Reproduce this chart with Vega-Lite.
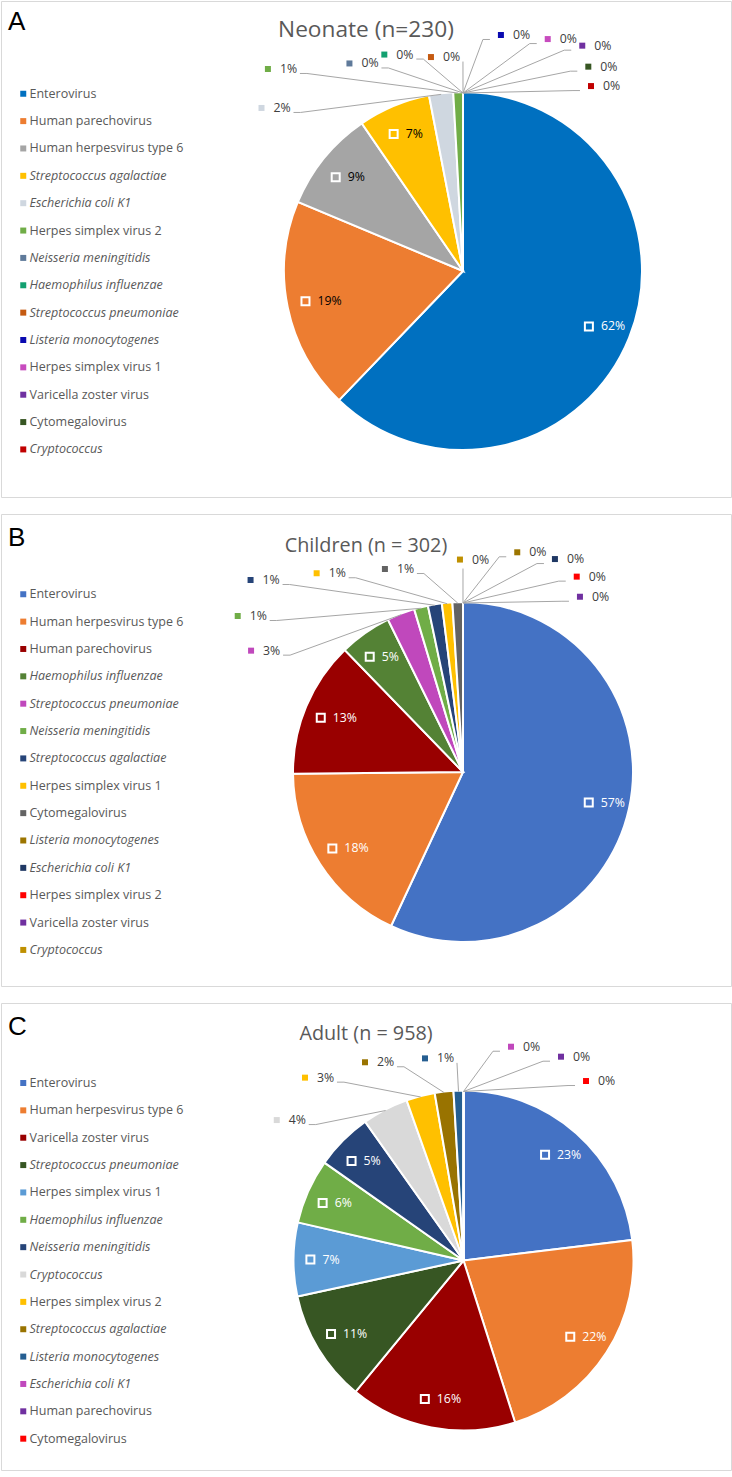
{
  "$schema": "https://vega.github.io/schema/vega-lite/v6.json",
  "background": "#FFFFFF",
  "padding": 0,
  "spacing": 15,
  "resolve": {"scale": {"color": "independent"}, "legend": {"color": "independent"}},
  "config": {
    "font": "Open Sans",
    "view": {"stroke": "#D9D9D9", "strokeWidth": 1},
    "title": {"font": "Open Sans", "fontWeight": "normal", "color": "#595959", "frame": "group"},
    "legend": {
      "orient": "none", "direction": "vertical", "symbolType": "square", "symbolSize": 36,
      "symbolStrokeWidth": 0, "symbolOpacity": 1, "labelFont": "Open Sans", "labelFontSize": 12.5,
      "labelColor": "#595959", "labelOffset": 0, "rowPadding": 14.36, "padding": 0, "labelLimit": 300
    }
  },
  "datasets": {
    "pathogens": [
      {"panel": "A", "order": 1, "pathogen": "Enterovirus", "n": 143},
      {"panel": "A", "order": 2, "pathogen": "Human parechovirus", "n": 44},
      {"panel": "A", "order": 3, "pathogen": "Human herpesvirus type 6", "n": 21},
      {"panel": "A", "order": 4, "pathogen": "Streptococcus agalactiae", "n": 15},
      {"panel": "A", "order": 5, "pathogen": "Escherichia coli K1", "n": 5, "lx": -1.132, "ly": 0.916},
      {"panel": "A", "order": 6, "pathogen": "Herpes simplex virus 2", "n": 2, "lx": -1.096, "ly": 1.135},
      {"panel": "A", "order": 7, "pathogen": "Neisseria meningitidis", "n": 0, "lx": -0.638, "ly": 1.166},
      {"panel": "A", "order": 8, "pathogen": "Haemophilus influenzae", "n": 0, "lx": -0.442, "ly": 1.216},
      {"panel": "A", "order": 9, "pathogen": "Streptococcus pneumoniae", "n": 0, "lx": -0.18, "ly": 1.202},
      {"panel": "A", "order": 10, "pathogen": "Listeria monocytogenes", "n": 0, "lx": 0.213, "ly": 1.326},
      {"panel": "A", "order": 11, "pathogen": "Herpes simplex virus 1", "n": 0, "lx": 0.476, "ly": 1.303},
      {"panel": "A", "order": 12, "pathogen": "Varicella zoster virus", "n": 0, "lx": 0.67, "ly": 1.266},
      {"panel": "A", "order": 13, "pathogen": "Cytomegalovirus", "n": 0, "lx": 0.704, "ly": 1.148},
      {"panel": "A", "order": 14, "pathogen": "Cryptococcus", "n": 0, "lx": 0.719, "ly": 1.039},

      {"panel": "B", "order": 1, "pathogen": "Enterovirus", "n": 172},
      {"panel": "B", "order": 2, "pathogen": "Human herpesvirus type 6", "n": 54},
      {"panel": "B", "order": 3, "pathogen": "Human parechovirus", "n": 39},
      {"panel": "B", "order": 4, "pathogen": "Haemophilus influenzae", "n": 15},
      {"panel": "B", "order": 5, "pathogen": "Streptococcus pneumoniae", "n": 8, "lx": -1.254, "ly": 0.718},
      {"panel": "B", "order": 6, "pathogen": "Neisseria meningitidis", "n": 4, "lx": -1.333, "ly": 0.923},
      {"panel": "B", "order": 7, "pathogen": "Streptococcus agalactiae", "n": 4, "lx": -1.257, "ly": 1.136},
      {"panel": "B", "order": 8, "pathogen": "Herpes simplex virus 1", "n": 3, "lx": -0.866, "ly": 1.176},
      {"panel": "B", "order": 9, "pathogen": "Cytomegalovirus", "n": 3, "lx": -0.462, "ly": 1.201},
      {"panel": "B", "order": 10, "pathogen": "Listeria monocytogenes", "n": 0, "lx": 0.321, "ly": 1.3},
      {"panel": "B", "order": 11, "pathogen": "Escherichia coli K1", "n": 0, "lx": 0.544, "ly": 1.26},
      {"panel": "B", "order": 12, "pathogen": "Herpes simplex virus 2", "n": 0, "lx": 0.673, "ly": 1.156},
      {"panel": "B", "order": 13, "pathogen": "Varicella zoster virus", "n": 0, "lx": 0.692, "ly": 1.037},
      {"panel": "B", "order": 14, "pathogen": "Cryptococcus", "n": 0, "lx": -0.018, "ly": 1.257},

      {"panel": "C", "order": 1, "pathogen": "Enterovirus", "n": 221},
      {"panel": "C", "order": 2, "pathogen": "Human herpesvirus type 6", "n": 211},
      {"panel": "C", "order": 3, "pathogen": "Varicella zoster virus", "n": 152},
      {"panel": "C", "order": 4, "pathogen": "Streptococcus pneumoniae", "n": 102},
      {"panel": "C", "order": 5, "pathogen": "Herpes simplex virus 1", "n": 67},
      {"panel": "C", "order": 6, "pathogen": "Haemophilus influenzae", "n": 59},
      {"panel": "C", "order": 7, "pathogen": "Neisseria meningitidis", "n": 52},
      {"panel": "C", "order": 8, "pathogen": "Cryptococcus", "n": 42, "lx": -1.105, "ly": 0.831},
      {"panel": "C", "order": 9, "pathogen": "Herpes simplex virus 2", "n": 26, "lx": -0.938, "ly": 1.082},
      {"panel": "C", "order": 10, "pathogen": "Streptococcus agalactiae", "n": 17, "lx": -0.583, "ly": 1.173},
      {"panel": "C", "order": 11, "pathogen": "Listeria monocytogenes", "n": 9, "lx": -0.228, "ly": 1.196},
      {"panel": "C", "order": 12, "pathogen": "Escherichia coli K1", "n": 0, "lx": 0.281, "ly": 1.265},
      {"panel": "C", "order": 13, "pathogen": "Human parechovirus", "n": 0, "lx": 0.577, "ly": 1.206},
      {"panel": "C", "order": 14, "pathogen": "Cytomegalovirus", "n": 0, "lx": 0.725, "ly": 1.062}
    ]
  },
  "vconcat": [
    {
      "title": {"text": "A", "anchor": "start", "offset": -34, "dx": 7, "font": "Liberation Sans", "fontSize": 26, "color": "#000000"},
      "vconcat": [
        {
          "width": 730,
          "height": 496,
          "title": {"text": "Neonate (n=230)", "anchor": "middle", "offset": -41, "fontSize": 22.7},
          "data": {"name": "pathogens"},
          "transform": [
            {"filter": "datum.panel === 'A'"},
            {"joinaggregate": [{"op": "sum", "field": "n", "as": "total"}]},
            {"window": [{"op": "sum", "field": "n", "as": "cum"}], "sort": [{"field": "order"}], "frame": [null, 0]},
            {"calculate": "datum.n / datum.total", "as": "pct"},
            {"calculate": "format(datum.pct, '.0%')", "as": "label"},
            {"calculate": "2 * PI * (datum.cum - datum.n / 2) / datum.total", "as": "mid"},
            {"calculate": "sin(datum.mid)", "as": "ex"},
            {"calculate": "cos(datum.mid)", "as": "ey"},
            {"calculate": "0.835 * datum.ex", "as": "ix"},
            {"calculate": "0.835 * datum.ey", "as": "iy"},
            {"calculate": "datum.ex * 178 >= datum.lx * 178 - 4 && datum.ex * 178 <= datum.lx * 178 + 31", "as": "under"},
            {"calculate": "datum.lx * 178 + 14 < datum.ex * 178", "as": "leftSide"},
            {"calculate": "datum.under ? datum.ex : datum.leftSide ? datum.lx + 32 / 178 : datum.lx - 11 / 178", "as": "ax"},
            {"calculate": "datum.ly - (datum.under ? 9 : 4.5) / 178", "as": "ay"},
            {"calculate": "!datum.under && abs(datum.ex - datum.ax) * 178 > 12 ? 7 / 178 : 0", "as": "stub"},
            {"calculate": "datum.leftSide ? datum.ax + datum.stub : datum.ax - datum.stub", "as": "bx"}
          ],
          "layer": [
            {
              "mark": {"type": "arc", "outerRadius": 179, "stroke": "#FFFFFF", "strokeWidth": 2},
              "encoding": {
                "x": {"datum": 0, "type": "quantitative", "scale": {"domain": [-2.5955, 1.5056], "nice": false, "zero": false}, "axis": null},
                "y": {"datum": 0, "type": "quantitative", "scale": {"domain": [-1.2697, 1.5169], "nice": false, "zero": false}, "axis": null},
                "theta": {"field": "n", "type": "quantitative", "stack": true},
                "order": {"field": "order", "type": "quantitative", "sort": "ascending"},
                "color": {
                  "field": "pathogen", "type": "nominal",
                  "scale": {
                    "domain": ["Enterovirus", "Human parechovirus", "Human herpesvirus type 6", "Streptococcus agalactiae", "Escherichia coli K1", "Herpes simplex virus 2", "Neisseria meningitidis", "Haemophilus influenzae", "Streptococcus pneumoniae", "Listeria monocytogenes", "Herpes simplex virus 1", "Varicella zoster virus", "Cytomegalovirus", "Cryptococcus"],
                    "range": ["#0070C0", "#ED7D31", "#A5A5A5", "#FFC000", "#CFD7E0", "#70AD47", "#5F7A9A", "#13A070", "#C55A11", "#0A0AB0", "#C74BBE", "#7030A0", "#375623", "#C00000"]
                  },
                  "legend": {
                    "title": null, "legendX": 16, "legendY": 86.5,
                    "labelFontStyle": {"expr": "indexof(['Streptococcus agalactiae', 'Escherichia coli K1', 'Neisseria meningitidis', 'Haemophilus influenzae', 'Streptococcus pneumoniae', 'Listeria monocytogenes', 'Cryptococcus'], datum.label) >= 0 ? 'italic' : 'normal'"}
                  }
                }
              }
            },
            {
              "transform": [{"filter": "datum.pct < 0.045"}],
              "mark": {"type": "rule", "color": "#A6A6A6", "strokeWidth": 1},
              "encoding": {
                "x": {"field": "ax", "type": "quantitative", "scale": {"domain": [-2.5955, 1.5056], "nice": false, "zero": false}, "axis": null},
                "y": {"field": "ay", "type": "quantitative", "scale": {"domain": [-1.2697, 1.5169], "nice": false, "zero": false}, "axis": null},
                "x2": {"field": "bx"},
                "y2": {"field": "ay"}
              }
            },
            {
              "transform": [{"filter": "datum.pct < 0.045"}],
              "mark": {"type": "rule", "color": "#A6A6A6", "strokeWidth": 1},
              "encoding": {
                "x": {"field": "bx", "type": "quantitative", "scale": {"domain": [-2.5955, 1.5056], "nice": false, "zero": false}, "axis": null},
                "y": {"field": "ay", "type": "quantitative", "scale": {"domain": [-1.2697, 1.5169], "nice": false, "zero": false}, "axis": null},
                "x2": {"field": "ex"},
                "y2": {"field": "ey"}
              }
            },
            {
              "transform": [{"filter": "datum.pct < 0.045"}],
              "mark": {"type": "square", "size": 36, "opacity": 1},
              "encoding": {
                "x": {"field": "lx", "type": "quantitative", "scale": {"domain": [-2.5955, 1.5056], "nice": false, "zero": false}, "axis": null},
                "y": {"field": "ly", "type": "quantitative", "scale": {"domain": [-1.2697, 1.5169], "nice": false, "zero": false}, "axis": null},
                "color": {"field": "pathogen", "type": "nominal", "legend": null}
              }
            },
            {
              "transform": [{"filter": "datum.pct < 0.045"}],
              "mark": {"type": "text", "align": "left", "baseline": "middle", "xOffset": 12, "fontSize": 12.3, "color": "#404040"},
              "encoding": {
                "x": {"field": "lx", "type": "quantitative", "scale": {"domain": [-2.5955, 1.5056], "nice": false, "zero": false}, "axis": null},
                "y": {"field": "ly", "type": "quantitative", "scale": {"domain": [-1.2697, 1.5169], "nice": false, "zero": false}, "axis": null},
                "text": {"field": "label"}
              }
            },
            {
              "transform": [{"filter": "datum.pct >= 0.045"}],
              "mark": {"type": "square", "size": 64, "opacity": 1, "stroke": "#FFFFFF", "strokeWidth": 2, "xOffset": -12},
              "encoding": {
                "x": {"field": "ix", "type": "quantitative", "scale": {"domain": [-2.5955, 1.5056], "nice": false, "zero": false}, "axis": null},
                "y": {"field": "iy", "type": "quantitative", "scale": {"domain": [-1.2697, 1.5169], "nice": false, "zero": false}, "axis": null},
                "color": {"field": "pathogen", "type": "nominal", "legend": null}
              }
            },
            {
              "transform": [{"filter": "datum.pct >= 0.045"}],
              "mark": {"type": "text", "align": "left", "baseline": "middle", "fontSize": 12.3},
              "encoding": {
                "x": {"field": "ix", "type": "quantitative", "scale": {"domain": [-2.5955, 1.5056], "nice": false, "zero": false}, "axis": null},
                "y": {"field": "iy", "type": "quantitative", "scale": {"domain": [-1.2697, 1.5169], "nice": false, "zero": false}, "axis": null},
                "text": {"field": "label"},
                "color": {"condition": {"test": "datum.pathogen === 'Enterovirus'", "value": "#FFFFFF"}, "value": "#000000"}
              }
            }
          ]
        }
      ]
    },
    {
      "title": {"text": "B", "anchor": "start", "offset": -37, "dx": 7, "font": "Liberation Sans", "fontSize": 26, "color": "#000000"},
      "vconcat": [
        {
          "width": 730,
          "height": 472,
          "title": {"text": "Children (n = 302)", "anchor": "middle", "offset": -41.4, "fontSize": 19.8},
          "data": {"name": "pathogens"},
          "transform": [
            {"filter": "datum.panel === 'B'"},
            {"joinaggregate": [{"op": "sum", "field": "n", "as": "total"}]},
            {"window": [{"op": "sum", "field": "n", "as": "cum"}], "sort": [{"field": "order"}], "frame": [null, 0]},
            {"calculate": "datum.n / datum.total", "as": "pct"},
            {"calculate": "format(datum.pct, '.0%')", "as": "label"},
            {"calculate": "2 * PI * (datum.cum - datum.n / 2) / datum.total", "as": "mid"},
            {"calculate": "sin(datum.mid)", "as": "ex"},
            {"calculate": "cos(datum.mid)", "as": "ey"},
            {"calculate": "0.835 * datum.ex", "as": "ix"},
            {"calculate": "0.835 * datum.ey", "as": "iy"},
            {"calculate": "datum.ex * 169 >= datum.lx * 169 - 4 && datum.ex * 169 <= datum.lx * 169 + 31", "as": "under"},
            {"calculate": "datum.lx * 169 + 14 < datum.ex * 169", "as": "leftSide"},
            {"calculate": "datum.under ? datum.ex : datum.leftSide ? datum.lx + 32 / 169 : datum.lx - 11 / 169", "as": "ax"},
            {"calculate": "datum.ly - (datum.under ? 9 : 4.5) / 169", "as": "ay"},
            {"calculate": "!datum.under && abs(datum.ex - datum.ax) * 169 > 12 ? 7 / 169 : 0", "as": "stub"},
            {"calculate": "datum.leftSide ? datum.ax + datum.stub : datum.ax - datum.stub", "as": "bx"}
          ],
          "layer": [
            {
              "mark": {"type": "arc", "outerRadius": 170, "stroke": "#FFFFFF", "strokeWidth": 2},
              "encoding": {
                "x": {"datum": 0, "type": "quantitative", "scale": {"domain": [-2.7337, 1.5858], "nice": false, "zero": false}, "axis": null},
                "y": {"datum": 0, "type": "quantitative", "scale": {"domain": [-1.2663, 1.5266], "nice": false, "zero": false}, "axis": null},
                "theta": {"field": "n", "type": "quantitative", "stack": true},
                "order": {"field": "order", "type": "quantitative", "sort": "ascending"},
                "color": {
                  "field": "pathogen", "type": "nominal",
                  "scale": {
                    "domain": ["Enterovirus", "Human herpesvirus type 6", "Human parechovirus", "Haemophilus influenzae", "Streptococcus pneumoniae", "Neisseria meningitidis", "Streptococcus agalactiae", "Herpes simplex virus 1", "Cytomegalovirus", "Listeria monocytogenes", "Escherichia coli K1", "Herpes simplex virus 2", "Varicella zoster virus", "Cryptococcus"],
                    "range": ["#4472C4", "#ED7D31", "#990000", "#548235", "#C048BC", "#70AD47", "#264478", "#FFC000", "#636363", "#9C7500", "#1F3864", "#FF0000", "#7030A0", "#BF9000"]
                  },
                  "legend": {
                    "title": null, "legendX": 16, "legendY": 74,
                    "labelFontStyle": {"expr": "indexof(['Streptococcus agalactiae', 'Escherichia coli K1', 'Neisseria meningitidis', 'Haemophilus influenzae', 'Streptococcus pneumoniae', 'Listeria monocytogenes', 'Cryptococcus'], datum.label) >= 0 ? 'italic' : 'normal'"}
                  }
                }
              }
            },
            {
              "transform": [{"filter": "datum.pct < 0.045"}],
              "mark": {"type": "rule", "color": "#A6A6A6", "strokeWidth": 1},
              "encoding": {
                "x": {"field": "ax", "type": "quantitative", "scale": {"domain": [-2.7337, 1.5858], "nice": false, "zero": false}, "axis": null},
                "y": {"field": "ay", "type": "quantitative", "scale": {"domain": [-1.2663, 1.5266], "nice": false, "zero": false}, "axis": null},
                "x2": {"field": "bx"},
                "y2": {"field": "ay"}
              }
            },
            {
              "transform": [{"filter": "datum.pct < 0.045"}],
              "mark": {"type": "rule", "color": "#A6A6A6", "strokeWidth": 1},
              "encoding": {
                "x": {"field": "bx", "type": "quantitative", "scale": {"domain": [-2.7337, 1.5858], "nice": false, "zero": false}, "axis": null},
                "y": {"field": "ay", "type": "quantitative", "scale": {"domain": [-1.2663, 1.5266], "nice": false, "zero": false}, "axis": null},
                "x2": {"field": "ex"},
                "y2": {"field": "ey"}
              }
            },
            {
              "transform": [{"filter": "datum.pct < 0.045"}],
              "mark": {"type": "square", "size": 36, "opacity": 1},
              "encoding": {
                "x": {"field": "lx", "type": "quantitative", "scale": {"domain": [-2.7337, 1.5858], "nice": false, "zero": false}, "axis": null},
                "y": {"field": "ly", "type": "quantitative", "scale": {"domain": [-1.2663, 1.5266], "nice": false, "zero": false}, "axis": null},
                "color": {"field": "pathogen", "type": "nominal", "legend": null}
              }
            },
            {
              "transform": [{"filter": "datum.pct < 0.045"}],
              "mark": {"type": "text", "align": "left", "baseline": "middle", "xOffset": 12, "fontSize": 12.3, "color": "#404040"},
              "encoding": {
                "x": {"field": "lx", "type": "quantitative", "scale": {"domain": [-2.7337, 1.5858], "nice": false, "zero": false}, "axis": null},
                "y": {"field": "ly", "type": "quantitative", "scale": {"domain": [-1.2663, 1.5266], "nice": false, "zero": false}, "axis": null},
                "text": {"field": "label"}
              }
            },
            {
              "transform": [{"filter": "datum.pct >= 0.045"}],
              "mark": {"type": "square", "size": 64, "opacity": 1, "stroke": "#FFFFFF", "strokeWidth": 2, "xOffset": -12},
              "encoding": {
                "x": {"field": "ix", "type": "quantitative", "scale": {"domain": [-2.7337, 1.5858], "nice": false, "zero": false}, "axis": null},
                "y": {"field": "iy", "type": "quantitative", "scale": {"domain": [-1.2663, 1.5266], "nice": false, "zero": false}, "axis": null},
                "color": {"field": "pathogen", "type": "nominal", "legend": null}
              }
            },
            {
              "transform": [{"filter": "datum.pct >= 0.045"}],
              "mark": {"type": "text", "align": "left", "baseline": "middle", "fontSize": 12.3, "color": "#FFFFFF"},
              "encoding": {
                "x": {"field": "ix", "type": "quantitative", "scale": {"domain": [-2.7337, 1.5858], "nice": false, "zero": false}, "axis": null},
                "y": {"field": "iy", "type": "quantitative", "scale": {"domain": [-1.2663, 1.5266], "nice": false, "zero": false}, "axis": null},
                "text": {"field": "label"}
              }
            }
          ]
        }
      ]
    },
    {
      "title": {"text": "C", "anchor": "start", "offset": -37, "dx": 7, "font": "Liberation Sans", "fontSize": 26, "color": "#000000"},
      "vconcat": [
        {
          "width": 730,
          "height": 467,
          "title": {"text": "Adult (n = 958)", "anchor": "middle", "offset": -40.7, "fontSize": 19.8},
          "data": {"name": "pathogens"},
          "transform": [
            {"filter": "datum.panel === 'C'"},
            {"joinaggregate": [{"op": "sum", "field": "n", "as": "total"}]},
            {"window": [{"op": "sum", "field": "n", "as": "cum"}], "sort": [{"field": "order"}], "frame": [null, 0]},
            {"calculate": "datum.n / datum.total", "as": "pct"},
            {"calculate": "format(datum.pct, '.0%')", "as": "label"},
            {"calculate": "2 * PI * (datum.cum - datum.n / 2) / datum.total", "as": "mid"},
            {"calculate": "sin(datum.mid)", "as": "ex"},
            {"calculate": "cos(datum.mid)", "as": "ey"},
            {"calculate": "0.835 * datum.ex", "as": "ix"},
            {"calculate": "0.835 * datum.ey", "as": "iy"},
            {"calculate": "datum.ex * 169 >= datum.lx * 169 - 4 && datum.ex * 169 <= datum.lx * 169 + 31", "as": "under"},
            {"calculate": "datum.lx * 169 + 14 < datum.ex * 169", "as": "leftSide"},
            {"calculate": "datum.under ? datum.ex : datum.leftSide ? datum.lx + 32 / 169 : datum.lx - 11 / 169", "as": "ax"},
            {"calculate": "datum.ly - (datum.under ? 9 : 4.5) / 169", "as": "ay"},
            {"calculate": "!datum.under && abs(datum.ex - datum.ax) * 169 > 12 ? 7 / 169 : 0", "as": "stub"},
            {"calculate": "datum.leftSide ? datum.ax + datum.stub : datum.ax - datum.stub", "as": "bx"}
          ],
          "layer": [
            {
              "mark": {"type": "arc", "outerRadius": 170, "stroke": "#FFFFFF", "strokeWidth": 2},
              "encoding": {
                "x": {"datum": 0, "type": "quantitative", "scale": {"domain": [-2.7367, 1.5828], "nice": false, "zero": false}, "axis": null},
                "y": {"datum": 0, "type": "quantitative", "scale": {"domain": [-1.2396, 1.5237], "nice": false, "zero": false}, "axis": null},
                "theta": {"field": "n", "type": "quantitative", "stack": true},
                "order": {"field": "order", "type": "quantitative", "sort": "ascending"},
                "color": {
                  "field": "pathogen", "type": "nominal",
                  "scale": {
                    "domain": ["Enterovirus", "Human herpesvirus type 6", "Varicella zoster virus", "Streptococcus pneumoniae", "Herpes simplex virus 1", "Haemophilus influenzae", "Neisseria meningitidis", "Cryptococcus", "Herpes simplex virus 2", "Streptococcus agalactiae", "Listeria monocytogenes", "Escherichia coli K1", "Human parechovirus", "Cytomegalovirus"],
                    "range": ["#4472C4", "#ED7D31", "#990000", "#375623", "#5B9BD5", "#70AD47", "#264478", "#D9D9D9", "#FFC000", "#997300", "#255E91", "#C048BC", "#7030A0", "#FF0000"]
                  },
                  "legend": {
                    "title": null, "legendX": 16, "legendY": 73.75,
                    "labelFontStyle": {"expr": "indexof(['Streptococcus agalactiae', 'Escherichia coli K1', 'Neisseria meningitidis', 'Haemophilus influenzae', 'Streptococcus pneumoniae', 'Listeria monocytogenes', 'Cryptococcus'], datum.label) >= 0 ? 'italic' : 'normal'"}
                  }
                }
              }
            },
            {
              "transform": [{"filter": "datum.pct < 0.045"}],
              "mark": {"type": "rule", "color": "#A6A6A6", "strokeWidth": 1},
              "encoding": {
                "x": {"field": "ax", "type": "quantitative", "scale": {"domain": [-2.7367, 1.5828], "nice": false, "zero": false}, "axis": null},
                "y": {"field": "ay", "type": "quantitative", "scale": {"domain": [-1.2396, 1.5237], "nice": false, "zero": false}, "axis": null},
                "x2": {"field": "bx"},
                "y2": {"field": "ay"}
              }
            },
            {
              "transform": [{"filter": "datum.pct < 0.045"}],
              "mark": {"type": "rule", "color": "#A6A6A6", "strokeWidth": 1},
              "encoding": {
                "x": {"field": "bx", "type": "quantitative", "scale": {"domain": [-2.7367, 1.5828], "nice": false, "zero": false}, "axis": null},
                "y": {"field": "ay", "type": "quantitative", "scale": {"domain": [-1.2396, 1.5237], "nice": false, "zero": false}, "axis": null},
                "x2": {"field": "ex"},
                "y2": {"field": "ey"}
              }
            },
            {
              "transform": [{"filter": "datum.pct < 0.045"}],
              "mark": {"type": "square", "size": 36, "opacity": 1},
              "encoding": {
                "x": {"field": "lx", "type": "quantitative", "scale": {"domain": [-2.7367, 1.5828], "nice": false, "zero": false}, "axis": null},
                "y": {"field": "ly", "type": "quantitative", "scale": {"domain": [-1.2396, 1.5237], "nice": false, "zero": false}, "axis": null},
                "color": {"field": "pathogen", "type": "nominal", "legend": null}
              }
            },
            {
              "transform": [{"filter": "datum.pct < 0.045"}],
              "mark": {"type": "text", "align": "left", "baseline": "middle", "xOffset": 12, "fontSize": 12.3, "color": "#404040"},
              "encoding": {
                "x": {"field": "lx", "type": "quantitative", "scale": {"domain": [-2.7367, 1.5828], "nice": false, "zero": false}, "axis": null},
                "y": {"field": "ly", "type": "quantitative", "scale": {"domain": [-1.2396, 1.5237], "nice": false, "zero": false}, "axis": null},
                "text": {"field": "label"}
              }
            },
            {
              "transform": [{"filter": "datum.pct >= 0.045"}],
              "mark": {"type": "square", "size": 64, "opacity": 1, "stroke": "#FFFFFF", "strokeWidth": 2, "xOffset": -12},
              "encoding": {
                "x": {"field": "ix", "type": "quantitative", "scale": {"domain": [-2.7367, 1.5828], "nice": false, "zero": false}, "axis": null},
                "y": {"field": "iy", "type": "quantitative", "scale": {"domain": [-1.2396, 1.5237], "nice": false, "zero": false}, "axis": null},
                "color": {"field": "pathogen", "type": "nominal", "legend": null}
              }
            },
            {
              "transform": [{"filter": "datum.pct >= 0.045"}],
              "mark": {"type": "text", "align": "left", "baseline": "middle", "fontSize": 12.3, "color": "#FFFFFF"},
              "encoding": {
                "x": {"field": "ix", "type": "quantitative", "scale": {"domain": [-2.7367, 1.5828], "nice": false, "zero": false}, "axis": null},
                "y": {"field": "iy", "type": "quantitative", "scale": {"domain": [-1.2396, 1.5237], "nice": false, "zero": false}, "axis": null},
                "text": {"field": "label"}
              }
            }
          ]
        }
      ]
    }
  ]
}
